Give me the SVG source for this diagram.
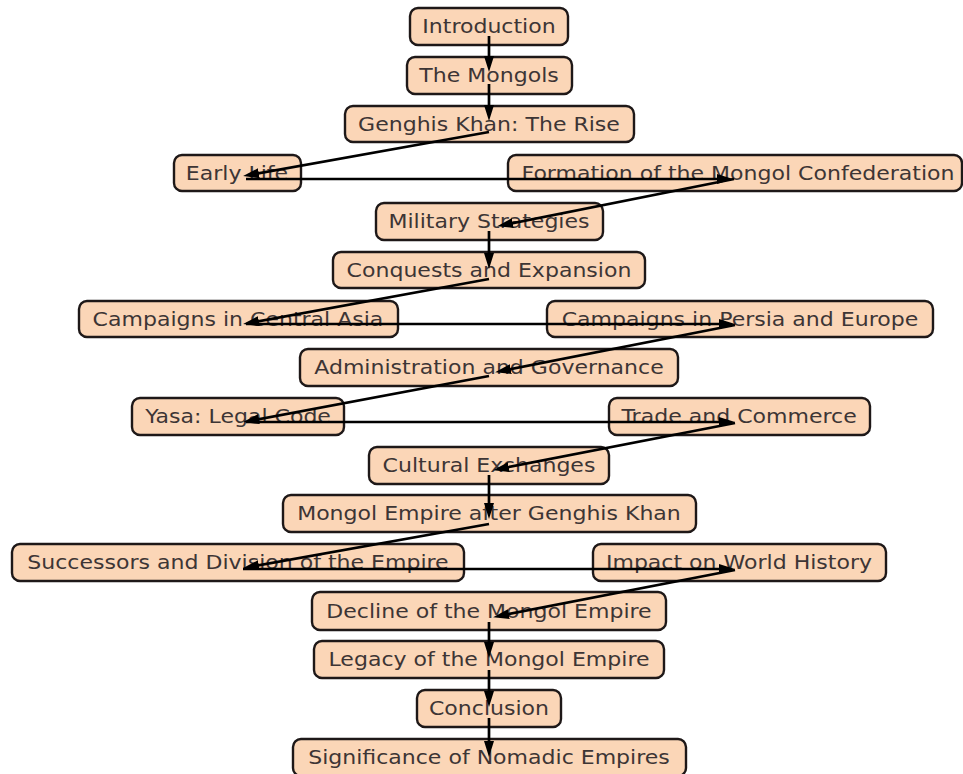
<svg xmlns="http://www.w3.org/2000/svg" width="963" height="774" viewBox="0 0 963 774">
<defs>
<style>
.n rect{fill:#fbd6b7;stroke:#1e1818;stroke-width:2.4;}
.n text{font-family:"DejaVu Sans",sans-serif;font-size:19.5px;fill:#3d3535;text-anchor:middle;dominant-baseline:central;transform-box:fill-box;transform-origin:center;transform:scaleX(1.13);}
.e line{stroke:#000;stroke-width:2.7;marker-end:url(#ah);}
</style>
<marker id="ah" markerUnits="userSpaceOnUse" markerWidth="17" markerHeight="11" refX="10" refY="5" orient="auto">
<path d="M0,0 L16,5 L0,10 z" fill="#000"/>
</marker>
</defs>
<rect width="963" height="774" fill="#fff"/>
<g id="n1" class="n"><rect x="410" y="8" width="158" height="37" rx="8"/><text x="489" y="26.5">Introduction</text></g>
<g id="n2" class="n"><rect x="407" y="57" width="165" height="37" rx="8"/><text x="489" y="75.5">The Mongols</text></g>
<g id="n3" class="n"><rect x="345" y="106" width="289" height="36" rx="8"/><text x="489" y="124.5">Genghis Khan: The Rise</text></g>
<g id="n4" class="n"><rect x="174" y="155" width="127" height="36" rx="8"/><text x="237" y="173.5">Early Life</text></g>
<g id="n5" class="n"><rect x="508" y="155" width="454" height="36" rx="8"/><text x="738" y="173.5">Formation of the Mongol Confederation</text></g>
<g id="n6" class="n"><rect x="376" y="203" width="227" height="37" rx="8"/><text x="489" y="221.5">Military Strategies</text></g>
<g id="n7" class="n"><rect x="333" y="252" width="312" height="36" rx="8"/><text x="489" y="270.5">Conquests and Expansion</text></g>
<g id="n8" class="n"><rect x="79" y="301" width="319" height="36" rx="8"/><text x="238" y="319.5">Campaigns in Central Asia</text></g>
<g id="n9" class="n"><rect x="547" y="301" width="386" height="36" rx="8"/><text x="740" y="319.5">Campaigns in Persia and Europe</text></g>
<g id="n10" class="n"><rect x="300" y="349" width="378" height="37" rx="8"/><text x="489" y="367.5">Administration and Governance</text></g>
<g id="n11" class="n"><rect x="132" y="398" width="212" height="37" rx="8"/><text x="238" y="416.5">Yasa: Legal Code</text></g>
<g id="n12" class="n"><rect x="609" y="398" width="261" height="37" rx="8"/><text x="739" y="416.5">Trade and Commerce</text></g>
<g id="n13" class="n"><rect x="369" y="447" width="240" height="37" rx="8"/><text x="489" y="465.5">Cultural Exchanges</text></g>
<g id="n14" class="n"><rect x="283" y="495" width="413" height="37" rx="8"/><text x="489" y="513.5">Mongol Empire after Genghis Khan</text></g>
<g id="n15" class="n"><rect x="12" y="544" width="452" height="37" rx="8"/><text x="238" y="562.5">Successors and Division of the Empire</text></g>
<g id="n16" class="n"><rect x="593" y="544" width="293" height="37" rx="8"/><text x="739" y="562.5">Impact on World History</text></g>
<g id="n17" class="n"><rect x="312" y="592" width="354" height="38" rx="8"/><text x="489" y="611.5">Decline of the Mongol Empire</text></g>
<g id="n18" class="n"><rect x="314" y="641" width="350" height="37" rx="8"/><text x="489" y="659.5">Legacy of the Mongol Empire</text></g>
<g id="n19" class="n"><rect x="417" y="690" width="144" height="37" rx="8"/><text x="489" y="708.5">Conclusion</text></g>
<g id="n20" class="n"><rect x="293" y="739" width="393" height="37" rx="8"/><text x="489" y="757.5">Significance of Nomadic Empires</text></g>
<g id="edges" class="e">
<line x1="489" y1="36" x2="489" y2="66"/>
<line x1="489" y1="84" x2="489" y2="115"/>
<line x1="489" y1="132" x2="249" y2="175"/>
<line x1="246" y1="179" x2="727" y2="179"/>
<line x1="734" y1="179" x2="503" y2="225"/>
<line x1="489" y1="231" x2="489" y2="263"/>
<line x1="489" y1="279" x2="249" y2="323"/>
<line x1="246" y1="324" x2="729" y2="324"/>
<line x1="735" y1="325" x2="501" y2="371"/>
<line x1="489" y1="376" x2="249" y2="421"/>
<line x1="246" y1="422" x2="729" y2="422"/>
<line x1="735" y1="423" x2="499" y2="469"/>
<line x1="489" y1="475" x2="489" y2="513"/>
<line x1="489" y1="524" x2="249" y2="567"/>
<line x1="243" y1="569" x2="729" y2="569"/>
<line x1="735" y1="570" x2="499" y2="616"/>
<line x1="489" y1="622" x2="489" y2="652"/>
<line x1="489" y1="670" x2="489" y2="701"/>
<line x1="489" y1="718" x2="489" y2="751"/>
</g>
</svg>
